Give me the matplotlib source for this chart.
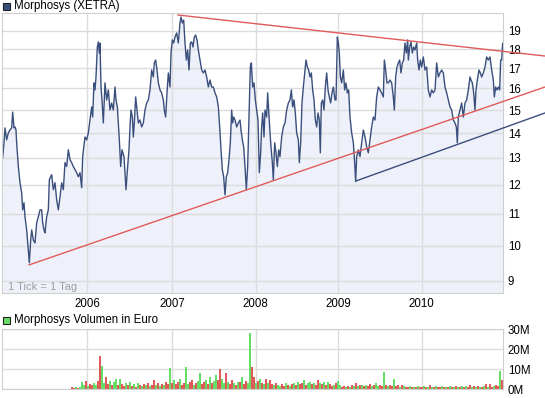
import matplotlib
matplotlib.use('Agg')
import matplotlib.pyplot as plt
from matplotlib.patches import Rectangle
from matplotlib.ticker import NullLocator, NullFormatter

plt.rcParams['font.family'] = ['Liberation Sans', 'DejaVu Sans']

# x axis = trading day index (1 Tick = 1 Tag), day 0 = start of 2005
days = [2, 6, 9, 14, 19, 24, 29, 32, 36, 39, 42, 44, 49, 54, 59, 62, 66, 69, 74, 79,
        82, 86, 89, 94, 99, 104, 109, 114, 119, 122, 126, 129, 134, 139, 142, 146, 149, 154, 159, 164,
        169, 174, 179, 184, 189, 194, 199, 204, 209, 214, 219, 224, 229, 234, 239, 242, 249, 254, 259, 264,
        269, 272, 276, 279, 282, 286, 289, 292, 294, 297, 300, 304, 309, 314, 319, 324, 329, 334, 339, 342,
        346, 349, 352, 356, 360, 366, 372,
        377, 381, 384, 387, 391, 394, 397, 401, 405, 409, 414, 419, 424, 429, 434, 439, 444, 449, 454, 457,
        461, 465, 469, 474, 479, 484, 487, 491, 495, 499, 504, 507, 511, 515, 519, 524, 529, 534, 537, 541,
        545, 549, 553, 557, 561, 565, 569, 573, 577, 581, 585, 589, 594, 599, 604, 609, 614, 619, 624, 629,
        634, 639, 644, 649, 653, 657, 661, 665, 669, 673, 677, 681, 685, 689, 692, 695, 699, 704, 709, 714,
        717, 721, 725, 729, 733, 737, 741, 745,
        748, 752, 756, 760, 764, 768, 772, 776, 779, 782, 786, 789, 794, 797, 800, 804, 807, 811, 814, 818,
        822, 826, 830, 834, 839, 844, 849, 854, 859, 864, 868, 872, 876, 880, 884, 889, 892, 896, 900, 904,
        908, 912, 916, 920, 924, 928, 932, 936, 940, 944, 948, 952, 955, 958, 962, 966, 970, 974, 978, 982,
        986, 990, 994, 999, 1002, 1006, 1009, 1012, 1015, 1019, 1024, 1028, 1032, 1036, 1040, 1044, 1049, 1054, 1058, 1061,
        1064, 1069, 1074, 1079, 1084, 1089, 1094, 1099, 1104, 1109, 1114, 1119, 1124,
        1129, 1134, 1139, 1144, 1147, 1151, 1155, 1159, 1164, 1169, 1174, 1177, 1181, 1185, 1189, 1193, 1197, 1201, 1205, 1209,
        1213, 1217, 1219, 1223, 1227, 1231, 1235, 1239, 1244, 1247, 1251, 1255, 1259, 1264, 1269, 1274, 1279, 1284, 1289, 1294,
        1299, 1304, 1309, 1314, 1319, 1324, 1329, 1334, 1339, 1344, 1349, 1354, 1359, 1363, 1366, 1369, 1374, 1379, 1384, 1389,
        1394, 1399, 1404, 1407, 1411, 1415, 1419, 1422, 1426, 1431, 1435, 1439, 1444, 1449, 1454, 1459, 1464, 1469, 1474, 1477,
        1481, 1485, 1489, 1493, 1496, 1499, 1502, 1503]

prices = [13.01, 13.60, 14.22, 13.72, 14.01, 14.13, 14.22, 14.91, 14.22, 14.26, 14.13, 13.60, 12.67, 12.07, 11.71, 11.13, 11.37, 10.90, 10.48, 9.87,
          9.50, 10.17, 10.48, 10.17, 10.08, 10.71, 10.90, 11.13, 11.13, 10.71, 10.48, 10.39, 10.90, 11.13, 12.18, 12.29, 12.36, 11.82, 12.07, 11.47,
          11.13, 11.57, 12.07, 11.82, 12.82, 12.67, 13.32, 12.93, 12.82, 12.67, 12.55, 12.44, 12.29, 12.44, 11.89, 13.05, 13.84, 13.72, 14.01, 14.56,
          15.14, 14.69, 16.27, 15.93, 16.56, 18.11, 18.39, 17.79, 18.33, 16.07, 15.46, 14.43, 16.27, 15.46, 15.93, 15.00, 15.32, 15.00, 16.07, 15.46,
          15.14, 14.43, 13.72, 12.67, 13.32, 13.05, 11.82,
          12.67, 13.32, 14.26, 15.00, 14.69, 13.84, 14.43, 15.60, 15.00, 14.43, 14.56, 14.26, 14.43, 15.00, 15.32, 15.46, 15.93, 16.91, 16.56, 17.27,
          17.42, 16.91, 16.27, 15.93, 15.79, 15.46, 15.00, 14.69, 15.79, 16.76, 16.07, 17.79, 18.50, 18.33, 18.66, 18.89, 18.33, 19.46, 19.81, 19.46,
          19.63, 18.33, 17.42, 17.95, 16.91, 18.33, 18.39, 18.11, 18.66, 18.77, 18.50, 17.95, 17.42, 16.91, 16.76, 16.91, 16.56, 16.07, 16.41, 16.07,
          16.07, 15.79, 15.60, 15.14, 14.26, 13.32, 12.55, 12.29, 11.64, 12.29, 12.44, 12.93, 13.60, 15.00, 14.43, 14.69, 14.56, 14.26, 14.43, 14.56,
          14.13, 13.72, 13.44, 12.67, 11.82, 12.67, 14.69, 17.06,
          17.27, 16.07, 16.27, 15.46, 15.00, 14.56, 12.44, 13.20, 14.26, 14.87, 13.84, 15.00, 14.69, 15.79, 15.00, 14.01, 13.44, 12.82, 12.18, 13.60,
          13.20, 12.67, 13.32, 13.05, 13.84, 14.26, 14.43, 15.00, 15.32, 15.46, 15.93, 15.14, 15.46, 14.87, 14.01, 13.72, 12.82, 13.60, 15.32, 16.07,
          16.76, 17.42, 17.06, 16.91, 16.56, 16.76, 15.93, 15.46, 14.56, 14.26, 14.87, 14.56, 13.20, 15.32, 15.46, 15.00, 16.07, 16.76, 15.93, 15.60,
          15.32, 15.79, 16.07, 15.46, 15.46, 18.66, 18.33, 17.79, 16.56, 16.27, 16.91, 15.93, 16.27, 15.79, 15.93, 14.69, 14.01, 13.60, 12.82, 12.11,
          13.05, 13.32, 13.05, 13.60, 14.13, 13.84, 13.44, 13.20, 13.72, 14.26, 14.69, 14.56, 15.60,
          16.07, 15.93, 15.79, 15.60, 17.42, 16.91, 16.27, 16.27, 16.41, 16.27, 15.60, 15.00, 16.56, 17.06, 17.27, 17.42, 16.76, 17.27, 17.42, 18.33,
          17.79, 18.50, 17.42, 18.11, 18.39, 17.79, 18.11, 17.95, 18.33, 17.42, 16.91, 17.42, 17.06, 17.58, 16.91, 17.06, 15.93, 15.60, 15.93, 15.79,
          15.93, 17.27, 16.56, 16.76, 16.91, 16.76, 16.07, 15.79, 15.46, 15.14, 15.00, 14.56, 14.43, 14.26, 13.60, 14.69, 15.00, 15.32, 14.69, 15.32,
          15.46, 15.93, 16.56, 16.41, 16.27, 15.79, 15.00, 15.93, 16.41, 16.91, 16.76, 16.56, 16.76, 17.06, 17.58, 17.42, 17.58, 16.91, 16.41, 15.60,
          16.07, 15.93, 16.07, 15.93, 17.42, 17.42, 18.33, 17.95]

year_labels = ['2006', '2007', '2008', '2009', '2010']
year_days = [256, 511, 761, 1009, 1259]
price_ticks = [9, 10, 11, 12, 13, 14, 15, 16, 17, 18, 19]

# trend lines: (start day, end day), (start price, end price)
upper_days, upper_prices = [528, 1629], [19.93, 17.63]
lower_days, lower_prices = [81, 1629], [9.44, 16.07]
support_days, support_prices = [1061, 1629], [12.13, 14.87]

# volume in Mio Euro, one bar every 6 trading days from day 210
vol_start, vol_step = 210, 6
volume = [0.8, 0.6, 1.0, 0.7, 1.2, 3.5, 2.0, 4.0, 1.5, 2.5, 1.8, 3.0,
          2.2, 4.0, 16.5, 11.5, 3.0, 6.0, 2.5, 4.0, 1.8, 3.5, 5.0, 2.0,
          5.0, 2.5, 1.5, 3.0, 2.0, 3.5, 1.5, 2.5, 1.2, 3.0, 2.0, 1.5,
          2.5, 1.8, 3.0, 1.5, 2.0, 4.5, 2.0, 3.0, 1.5, 2.5, 2.0, 3.5,
          2.5, 10.5, 3.0, 4.5, 2.5, 3.5, 5.0, 2.0, 3.0, 11.0, 2.5, 3.5,
          4.5, 2.0, 3.0, 4.0, 8.0, 2.5, 3.5, 4.5, 2.5, 6.0, 3.0, 4.0,
          7.0, 4.5, 10.0, 5.0, 3.0, 8.0, 3.5, 2.5, 4.5, 3.0, 2.0, 3.5,
          3.5, 6.0, 2.5, 4.0, 3.0, 28.0, 11.0, 6.0, 3.0, 4.0, 5.0, 3.0,
          2.5, 5.0, 3.0, 4.5, 2.5, 2.0, 3.0, 2.0, 1.5, 2.5, 1.5, 3.0,
          2.0, 1.5, 2.5, 3.0, 2.0, 3.5, 2.5, 3.0, 4.5, 2.0, 3.0, 3.5,
          2.5, 3.0, 2.0, 4.5, 3.0, 2.5, 3.5, 2.0, 3.5, 2.5, 1.5, 2.0,
          3.0, 4.0, 2.0, 1.2, 1.5, 1.0, 1.5, 1.2, 2.0, 1.5, 3.0, 1.5,
          1.8, 2.0, 1.5, 2.0, 1.5, 2.5, 1.5, 2.0, 3.0, 1.5, 2.0, 1.5,
          8.7, 2.0, 1.5, 2.0, 1.5, 5.0, 1.5, 2.0, 1.0, 2.0, 1.5, 1.0,
          1.2, 1.5, 1.0, 1.2, 0.8, 1.5, 1.0, 1.2, 1.5, 1.0, 1.2, 1.8,
          1.0, 1.2, 1.5, 1.0, 1.2, 1.5, 1.0, 1.2, 0.8, 1.5, 1.2, 1.0,
          1.5, 1.0, 1.2, 1.5, 1.0, 1.5, 1.2, 2.0, 1.0, 1.5, 1.2, 1.5,
          1.0, 1.2, 1.5, 2.5, 1.2, 2.5, 1.0, 1.5, 2.0, 1.5, 9.0, 4.5]
vol_dir = ("rrgrgggrgrrg" "grrggrrgrggr" "grrgrgrgrgrg" "rgrgrrgrgrgr"
           "rgrgrrgrrggr" "rgrggrrgrgrg" "grrggrgrrgrg" "rgrrggrrgrgr"
           "grgrrgrggrrg" "rgrgrgrrgrgg" "rgrrgrgrgrrg" "rggrrgrgrgrg"
           "rgrgrrgrggrr" "grgrrgrrgrgr" "rgrgrgrrgrgr" "grgrrgrgrgrg"
           "rgrgrgrrgrgr" "grgrgrrgrrgr")

blue = '#3b4f7d'
red = '#e05a5a'
green = '#66dd66'
grid_col = '#dcdcdc'

W, H = 545, 398
fig = plt.figure(figsize=(W / 100, H / 100), dpi=100)

# ---- price chart ----
ax = fig.add_axes([2 / W, 1 - 293 / H, 501 / W, 280 / H])
ax.set_yscale('log')
ymin, ymax = 8.68, 20.05
ax.set_ylim(ymin, ymax)
ax.set_xlim(0, 1503)
ax.fill_between(days, prices, ymin * 0.9, color='#eef1fa', zorder=0.3, lw=0)
ax.plot(days, prices, color=blue, lw=1.0, zorder=2)
ax.plot(upper_days, upper_prices, color=red, lw=1, clip_on=False, zorder=3)
ax.plot(lower_days, lower_prices, color=red, lw=1, clip_on=False, zorder=3)
ax.plot(support_days, support_prices, color=blue, lw=1, clip_on=False, zorder=3)

ax.set_yticks(price_ticks)
ax.set_yticklabels([str(p) for p in price_ticks])
ax.yaxis.set_minor_locator(NullLocator())
ax.yaxis.set_minor_formatter(NullFormatter())
ax.yaxis.tick_right()
ax.set_xticks(year_days)
ax.set_xticklabels(year_labels)
ax.tick_params(length=0, labelsize=8.3, pad=3.5)
ax.set_axisbelow(True)
ax.grid(True, color=grid_col, lw=1)
for s in ax.spines.values():
    s.set_color('#cfcfcf')
ax.text(0.012, 0.022, '1 Tick = 1 Tag', transform=ax.transAxes, fontsize=8,
        color='#a0a0a0', va='center', ha='left')

# ---- volume chart ----
av = fig.add_axes([2 / W, 1 - 389 / H, 501 / W, 60 / H])
vol_days = [vol_start + vol_step * i for i in range(len(volume))]
vol_cols = [green if c == 'g' else red for c in vol_dir]
av.bar(vol_days, volume, width=4, color=vol_cols, lw=0, zorder=2)
av.set_xlim(0, 1503)
av.set_ylim(0, 30)
av.set_yticks([0, 10, 20, 30])
av.set_yticklabels(['0M', '10M', '20M', '30M'])
av.yaxis.tick_right()
av.set_xticks(year_days)
av.set_xticklabels([])
av.tick_params(length=0, labelsize=8.3, pad=3.5)
av.set_axisbelow(True)
av.grid(True, color=grid_col, lw=1)
for s in av.spines.values():
    s.set_color('#cfcfcf')

# ---- titles with square markers ----
fig.patches.append(Rectangle((3 / W, 1 - 10 / H), 7 / W, 7 / H, transform=fig.transFigure,
                             facecolor=blue, edgecolor='#222222', lw=0.8))
fig.text(14 / W, 1 - 6.5 / H, 'Morphosys (XETRA)', fontsize=8.3, va='center', ha='left')
fig.patches.append(Rectangle((3 / W, 1 - 324 / H), 7 / W, 7 / H, transform=fig.transFigure,
                             facecolor=green, edgecolor='#222222', lw=0.8))
fig.text(14 / W, 1 - 320.5 / H, 'Morphosys Volumen in Euro', fontsize=8.3, va='center', ha='left')

fig.savefig('out.png', dpi=100)
